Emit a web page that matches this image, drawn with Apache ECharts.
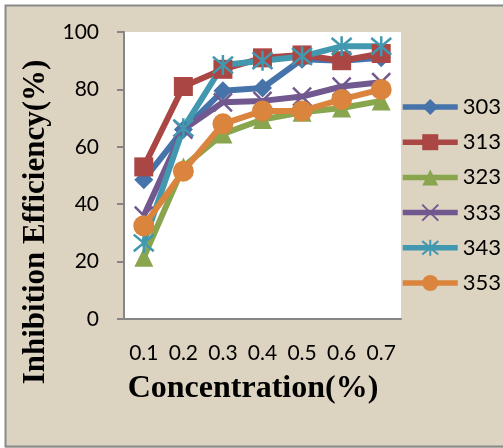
<!DOCTYPE html>
<html>
<head>
<meta charset="utf-8">
<script src="https://cdn.jsdelivr.net/npm/echarts@6/dist/echarts.min.js"></script>
<style>
html,body{margin:0;padding:0;background:#fff;}
#c{width:503px;height:448px;}
</style>
</head>
<body>
<div id="c"></div>
<script>
var categories = ['0.1','0.2','0.3','0.4','0.5','0.6','0.7'];
var seriesNames = ['303','313','323','333','343','353'];
var s303 = [48.5, 66, 79.5, 80.5, 90.5, 90, 91];
var s313 = [53, 81, 87, 91, 92, 90, 92.5];
var s323 = [21.5, 53, 64.5, 69.5, 72, 73.5, 76];
var s333 = [36, 66, 75.5, 76, 77.5, 81, 82.5];
var s343 = [26.5, 66.5, 88.5, 90, 91.5, 95, 95];
var s353 = [32.5, 51.5, 68, 72.5, 72.5, 76.5, 80];
var yTicks = [0, 20, 40, 60, 80, 100];

var values = [s303, s313, s323, s333, s343, s353];
var colors = ['#4673AA', '#AA4643', '#89A54E', '#71588F', '#4198AF', '#DB843D'];
var symbols = ['diamond', 'rect', 'triangle', 'path://M0,0L10,10M10,0L0,10', 'path://M0,0L10,10M10,0L0,10M5,-1L5,11', 'circle'];
var sizes = [19, 19, 19, 18, 20, 21];

var chart = echarts.init(document.getElementById('c'), null, {renderer: 'canvas'});
var series = seriesNames.map(function (n, i) {
  return {
    name: n,
    type: 'line',
    data: values[i],
    symbol: symbols[i],
    symbolSize: sizes[i],
    showAllSymbol: true,
    lineStyle: {color: colors[i], width: 6},
    itemStyle: {color: colors[i], borderColor: colors[i], borderWidth: (i === 3 || i === 4) ? 2.5 : 0}
  };
});

chart.setOption({
  animation: false,
  backgroundColor: '#dcd3c0',
  graphic: [
    {type: 'rect', silent: true, shape: {x: 0, y: 0, width: 503, height: 5}, style: {fill: '#ffffff'}},
    {type: 'rect', silent: true, shape: {x: 0, y: 0, width: 5, height: 448}, style: {fill: '#ffffff'}},
    {type: 'rect', silent: true, shape: {x: 5.5, y: 5.5, width: 510, height: 441}, style: {fill: 'none', stroke: '#8a8a8a', lineWidth: 2}},
    {type: 'text', x: 253, y: 389, style: {text: 'Concentration(%)', font: 'bold 32px "Liberation Serif"', fill: '#000', align: 'center', verticalAlign: 'middle'}},
    {type: 'text', x: 36, y: 222, rotation: Math.PI / 2, style: {text: 'Inhibition Efficiency(%)', font: 'bold 31px "Liberation Serif"', fill: '#000', align: 'center', verticalAlign: 'middle'}}
  ],
  grid: {left: 124, top: 32, width: 277, height: 287, containLabel: false, show: true, backgroundColor: '#ffffff', borderWidth: 0},
  legend: {
    orient: 'vertical',
    left: 400,
    top: 96,
    padding: 0,
    itemWidth: 55,
    itemHeight: 20,
    itemGap: 13.2,
    data: seriesNames,
    lineStyle: {width: 5.5},
    textStyle: {fontFamily: 'Lato', fontSize: 22, color: '#000', padding: [0, 0, 0, 0]},
    selectedMode: false
  },
  xAxis: {
    type: 'category',
    data: categories,
    boundaryGap: true,
    axisLine: {show: true, lineStyle: {color: '#868686', width: 2}},
    axisTick: {show: false},
    axisLabel: {margin: 24, fontFamily: 'Lato', fontSize: 21, color: '#000'},
    splitLine: {show: false}
  },
  yAxis: {
    type: 'value',
    min: yTicks[0],
    max: yTicks[yTicks.length - 1],
    interval: 20,
    axisLine: {show: true, lineStyle: {color: '#868686', width: 2}},
    axisTick: {show: true, length: 7, lineStyle: {color: '#868686', width: 2}},
    axisLabel: {margin: 25, fontFamily: 'Lato', fontSize: 21, color: '#000'},
    splitLine: {show: false}
  },
  series: series
});
</script>
</body>
</html>
